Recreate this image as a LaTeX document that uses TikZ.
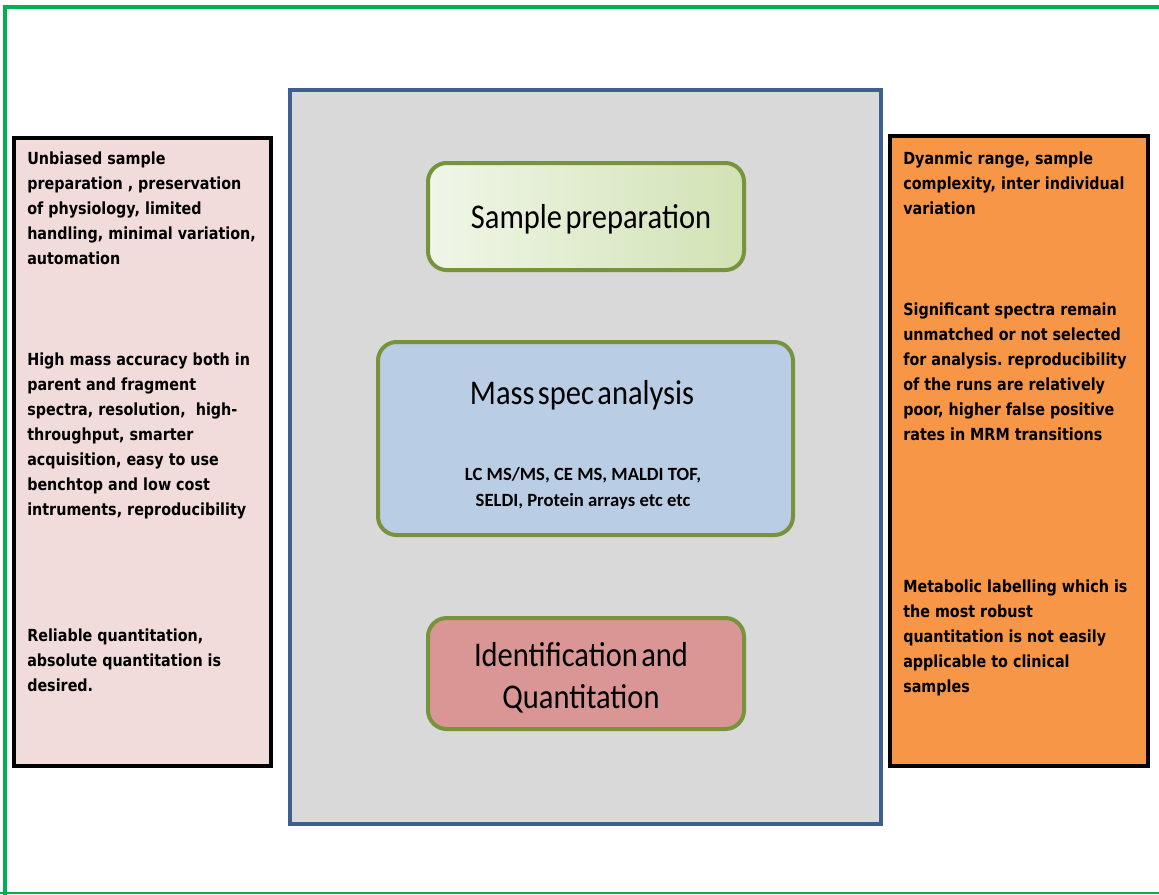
\documentclass[tikz,border=0pt]{standalone}
\usepackage{fontspec}
\setmainfont{Carlito}
\newfontfamily\notefont[FakeStretch=0.86]{DejaVu Sans}
\newfontfamily\stagefont[FakeStretch=0.88,WordSpace=0.5]{Carlito}
\usetikzlibrary{positioning}
\definecolor{framegreen}{RGB}{0,176,80}
\definecolor{prospink}{RGB}{242,220,219}
\definecolor{consorange}{RGB}{247,150,70}
\definecolor{panelgray}{RGB}{217,217,217}
\definecolor{panelblue}{RGB}{62,96,145}
\definecolor{stagegreen}{RGB}{119,147,60}
\definecolor{preplight}{RGB}{240,246,232}
\definecolor{prepdark}{RGB}{210,226,180}
\definecolor{msblue}{RGB}{185,205,229}
\definecolor{quantred}{RGB}{217,150,148}
\frenchspacing

\begin{document}
\begin{tikzpicture}[x=0.75pt,y=-0.75pt]
  \tikzset{
    sidebox/.style={draw=black,line width=3pt,inner sep=0pt},
    stage/.style={draw=stagegreen,line width=3pt,rounded corners=14pt,inner sep=0pt},
    note/.style={anchor=north west,inner sep=0pt,align=left,
      font=\notefont\bfseries\fontsize{12.5}{18.75}\selectfont},
    heading/.style={inner sep=0pt,align=center,font=\stagefont\fontsize{26}{31.5}\selectfont},
    techs/.style={inner sep=0pt,align=center,font=\bfseries\fontsize{14}{19.5}\selectfont},
  }
  \useasboundingbox (0,0) rectangle (1159,894);
  % outer frame
  \draw[framegreen,line width=3pt] (4.7,900) -- (4.7,6.5) -- (1170,6.5);
  \draw[framegreen,line width=1pt] (0,893) -- (1170,893);

  % side panels
  \node[sidebox,fill=prospink,minimum width=192.75pt,minimum height=471pt] (pros) at (142.5,452) {};
  \node[sidebox,fill=consorange,minimum width=193.5pt,minimum height=472.5pt] (cons) at (1019,451) {};

  % workflow panel
  \node[draw=panelblue,line width=3pt,fill=panelgray,inner sep=0pt,
        minimum width=443.25pt,minimum height=550.5pt] (panel) at (585.5,457) {};
  \node[stage,left color=preplight,right color=prepdark,
        minimum width=237pt,minimum height=80.25pt] (prep) at (586,216.5) {};
  \node[stage,fill=msblue,minimum width=311.25pt,minimum height=144.75pt] (ms) at (585.5,438.5) {};
  \node[stage,fill=quantred,minimum width=237pt,minimum height=83.25pt] (quant) at (586,673.5) {};

  \node[heading] (preptext) at (591,219) {Sample preparation};
  \node[heading] (mstext) at (582,395) {Mass spec analysis};
  \node[techs] (mstechs) at (583,488) {LC MS/MS, CE MS, MALDI TOF,\\SELDI, Protein arrays etc etc};
  \node[heading] (quanttext) at (581,678) {Identification and\\Quantitation};

  % requirements
  \node[note] (prosprep) at (27,152) {Unbiased sample\\preparation , preservation\\of physiology, limited\\handling, minimal variation,\\automation};
  \node[note] (prosms) at (27,353) {High mass accuracy both in\\parent and fragment\\spectra, resolution, \ high-\\throughput, smarter\\acquisition, easy to use\\benchtop and low cost\\intruments, reproducibility};
  \node[note] (prosquant) at (27,629) {Reliable quantitation,\\absolute quantitation is\\desired.};

  % limitations
  \node[note] (consprep) at (903,152) {Dyanmic range, sample\\complexity, inter individual\\variation};
  \node[note] (consms) at (903,303) {Significant spectra remain\\unmatched or not selected\\for analysis. reproducibility\\of the runs are relatively\\poor, higher false positive\\rates in MRM transitions};
  \node[note] (consquant) at (903,580) {Metabolic labelling which is\\the most robust\\quantitation is not easily\\applicable to clinical\\samples};
\end{tikzpicture}
\end{document}
